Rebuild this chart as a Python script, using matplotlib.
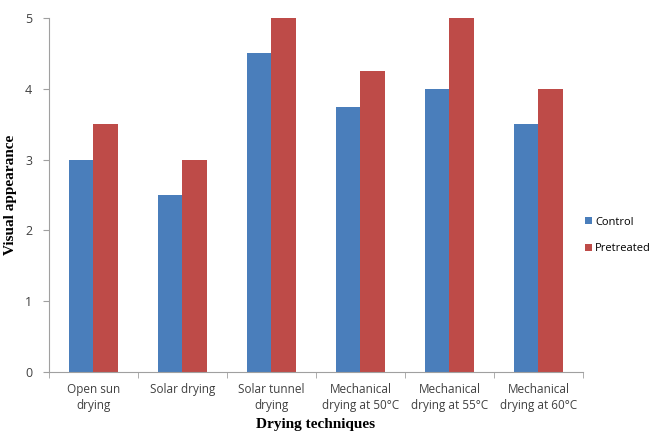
import matplotlib
matplotlib.use("Agg")
import matplotlib.pyplot as plt
import numpy as np

categories = ["Open sun\ndrying", "Solar drying", "Solar tunnel\ndrying",
              "Mechanical\ndrying at 50°C", "Mechanical\ndrying at 55°C", "Mechanical\ndrying at 60°C"]
control = [3.0, 2.5, 4.5, 3.75, 4.0, 3.5]
pretreated = [3.5, 3.0, 5.0, 4.25, 5.0, 4.0]
yticks = [0, 1, 2, 3, 4, 5]

fig = plt.figure(figsize=(6.55, 4.47), dpi=100)
ax = fig.add_axes([49/655, 75/447, (583-49)/655, (372-18)/447])

x = np.arange(len(categories))
w = 0.28
ax.bar(x - w/2, control, w, color="#4A7EBB", label="Control")
ax.bar(x + w/2, pretreated, w, color="#BE4B48", label="Pretreated")

ax.set_xlim(-0.5, len(categories) - 0.5)
ax.set_ylim(0, 5)
ax.set_yticks(yticks)
ax.set_xticks(x)
ax.set_xticklabels(categories, fontsize=8.5, color="#404040", family="Open Sans", linespacing=1.3)
ax.set_xticks(np.arange(len(categories) + 1) - 0.5, minor=True)
ax.tick_params(axis="x", which="major", length=0, pad=8)
ax.tick_params(axis="x", which="minor", length=4, color="#A0A0A0", direction="out")
ax.tick_params(axis="y", length=4, color="#A0A0A0", labelsize=9, labelcolor="#404040", direction="out", pad=8)
for lab in ax.get_yticklabels():
    lab.set_family("Open Sans")

for s in ["top", "right"]:
    ax.spines[s].set_visible(False)
ax.spines["left"].set_color("#A0A0A0")
ax.spines["bottom"].set_color("#A0A0A0")

ax.set_ylabel("Visual appearance", family="Liberation Serif", fontweight="bold", fontsize=11, labelpad=6)
ax.set_xlabel("Drying techniques", family="Liberation Serif", fontweight="bold", fontsize=11, labelpad=4)

fig.legend(loc="upper left", bbox_to_anchor=(576/655, 1 - 208/447), frameon=False,
           handlelength=0.6, handleheight=0.6, handletextpad=0.3, labelspacing=1.4,
           borderpad=0.3, prop={"family": "Open Sans", "size": 8})

fig.savefig("out.png", dpi=100)
